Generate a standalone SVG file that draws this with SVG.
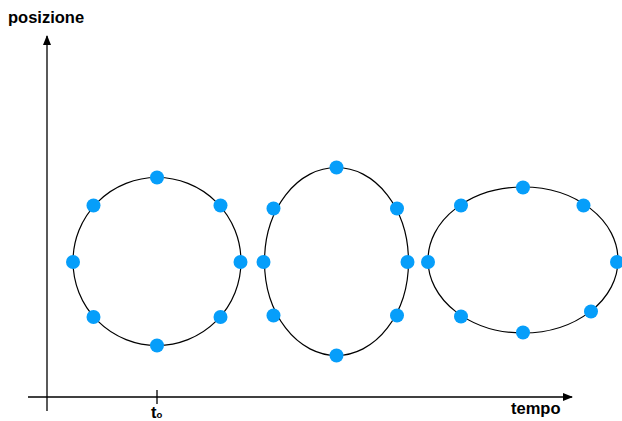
<svg xmlns="http://www.w3.org/2000/svg" width="622" height="421" viewBox="0 0 622 421">
<defs>
<marker id="arr" markerWidth="10" markerHeight="8" refX="9" refY="4" orient="auto" markerUnits="userSpaceOnUse">
<path d="M0,0 L10,4 L0,8 Z" fill="#000"/>
</marker>
<style>
.axis{stroke:#000;stroke-width:1.3;fill:none}
.curve{stroke:#000;stroke-width:1.2;fill:none}
.dot{fill:#069EFA}
.lbl{font-family:"Liberation Sans",Arial,sans-serif;font-weight:bold;font-size:16.5px;fill:#000}
</style>
</defs>
<rect width="622" height="421" fill="#fff"/>
<g id="axes">
<line class="axis" x1="47" y1="411" x2="47" y2="36" marker-end="url(#arr)"/>
<line class="axis" x1="28" y1="397" x2="572" y2="397" marker-end="url(#arr)"/>
<line class="axis" x1="157" y1="390" x2="157" y2="404"/>
<text class="lbl" x="8" y="23">posizione</text>
<text class="lbl" x="511" y="414">tempo</text>
<text class="lbl" x="151" y="418" font-size="14">t<tspan font-size="9.5">o</tspan></text>
</g>
<g id="circle1">
<circle class="curve" cx="157" cy="261.5" r="84"/>
<circle class="dot" cx="157" cy="177.5" r="7"/>
<circle class="dot" cx="157" cy="345.5" r="7"/>
<circle class="dot" cx="73" cy="262" r="7"/>
<circle class="dot" cx="240.5" cy="262" r="7"/>
<circle class="dot" cx="93.5" cy="205.5" r="7"/>
<circle class="dot" cx="220.5" cy="205.5" r="7"/>
<circle class="dot" cx="93.5" cy="317" r="7"/>
<circle class="dot" cx="220.5" cy="317" r="7"/>
</g>
<g id="ellipse2">
<ellipse class="curve" cx="336.5" cy="261.5" rx="72" ry="94"/>
<circle class="dot" cx="336.5" cy="167.5" r="7"/>
<circle class="dot" cx="336.5" cy="355.5" r="7"/>
<circle class="dot" cx="263.5" cy="262" r="7"/>
<circle class="dot" cx="407.5" cy="262" r="7"/>
<circle class="dot" cx="273.5" cy="208.5" r="7"/>
<circle class="dot" cx="397" cy="208.5" r="7"/>
<circle class="dot" cx="273.5" cy="315.5" r="7"/>
<circle class="dot" cx="397" cy="315.5" r="7"/>
</g>
<g id="ellipse3">
<ellipse class="curve" cx="523" cy="260" rx="95" ry="73"/>
<circle class="dot" cx="523" cy="187.5" r="7"/>
<circle class="dot" cx="523" cy="332.5" r="7"/>
<circle class="dot" cx="428" cy="262" r="7"/>
<circle class="dot" cx="617" cy="262" r="7"/>
<circle class="dot" cx="461" cy="205.5" r="7"/>
<circle class="dot" cx="583.5" cy="205.5" r="7"/>
<circle class="dot" cx="461" cy="316.5" r="7"/>
<circle class="dot" cx="591" cy="311.5" r="7"/>
</g>
</svg>
